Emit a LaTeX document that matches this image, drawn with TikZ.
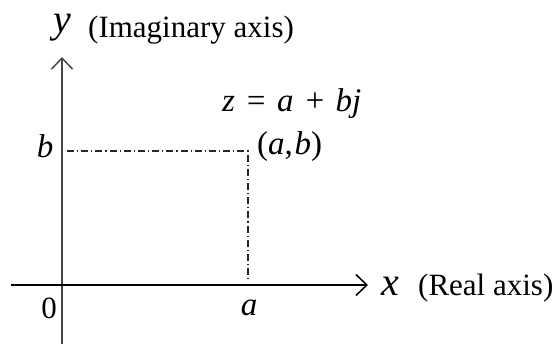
\documentclass[tikz,border=0pt]{standalone}
\usepackage{fontspec}
\setmainfont{Liberation Serif}
\usetikzlibrary{arrows.meta}
\begin{document}
\begin{tikzpicture}[x=1pt,y=-1pt,
  axis/.style={line width=1.7pt, -{Straight Barb[length=11pt,width=21pt,line width=1.5pt]}},
  guide/.style={line width=1.1pt, draw=black!85, dash pattern=on 7pt off 3pt on 1.2pt off 3pt},
  lbl/.style={inner sep=0pt, font=\fontsize{31}{36}\selectfont},
  mth/.style={inner sep=0pt, font=\fontsize{33}{38}\selectfont},
  var/.style={inner sep=0pt, font=\fontsize{40}{46}\selectfont\itshape}]
\useasboundingbox (0,0) rectangle (556,344);
% axes
\coordinate (ybot) at (62,344);
\coordinate (ytop) at (62,57);
\coordinate (xleft) at (11,285);
\coordinate (xright) at (368,285);
\draw[axis, draw=black!72] (ybot) -- (ytop);
\draw[axis, draw=black] (xleft) -- (xright);
% guides
\coordinate (gstart) at (67,151);
\coordinate (P) at (248,151);
\coordinate (gend) at (248,280);
\draw[guide] (gstart) -- (P) -- (gend);
% labels
\node[var, anchor=center] (ylab) at (62,28) {y};
\node[lbl, anchor=base west] (ytext) at (88,38) {(Imaginary axis)};
\node[var, anchor=center] (xlab) at (390,286) {x};
\node[lbl, anchor=base west] (xtext) at (418,295) {(Real axis)};
\node[lbl, anchor=base] (zero) at (49,318) {0};
\node[mth, anchor=base] (alab) at (249,315) {\itshape a};
\node[mth, anchor=base] (blab) at (45,158) {\itshape b};
\node[mth, anchor=base west] (zeq) at (222,112) {\itshape z\hspace{0.3em}=\hspace{0.3em}a\hspace{0.3em}+\hspace{0.3em}bj};
\node[mth, anchor=base west] (pt) at (257,155) {(\textit{a},\hspace{0.05em}\textit{b})};
\end{tikzpicture}
\end{document}
